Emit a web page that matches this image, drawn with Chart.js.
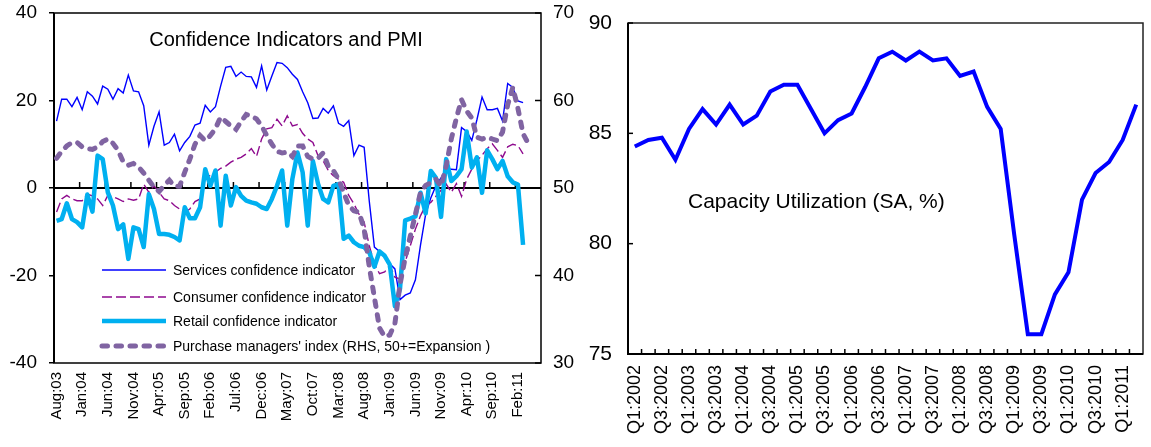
<!DOCTYPE html>
<html>
<head>
<meta charset="utf-8">
<script src="https://cdn.jsdelivr.net/npm/chart.js@4.4.1/dist/chart.umd.min.js"></script>
<style>
  html, body { margin: 0; padding: 0; background: #fff; }
  #wrap { position: relative; width: 1151px; height: 447px; overflow: hidden; background: #fff; }
  canvas { position: absolute; top: 0; }
  #confidence { left: 0; width: 585px; height: 447px; }
  #capacity { left: 585px; width: 566px; height: 447px; }
</style>
</head>
<body>
<div id="wrap">
  <canvas id="confidence" width="585" height="447"></canvas>
  <canvas id="capacity" width="566" height="447"></canvas>
</div>
<script>
// ---------- Monthly confidence indicators (Aug 2003 - Jun 2011) ----------
const months = [
  'Aug:03','Sep:03','Oct:03','Nov:03','Dec:03',
  'Jan:04','Feb:04','Mar:04','Apr:04','May:04','Jun:04','Jul:04','Aug:04','Sep:04','Oct:04','Nov:04','Dec:04',
  'Jan:05','Feb:05','Mar:05','Apr:05','May:05','Jun:05','Jul:05','Aug:05','Sep:05','Oct:05','Nov:05','Dec:05',
  'Jan:06','Feb:06','Mar:06','Apr:06','May:06','Jun:06','Jul:06','Aug:06','Sep:06','Oct:06','Nov:06','Dec:06',
  'Jan:07','Feb:07','Mar:07','Apr:07','May:07','Jun:07','Jul:07','Aug:07','Sep:07','Oct:07','Nov:07','Dec:07',
  'Jan:08','Feb:08','Mar:08','Apr:08','May:08','Jun:08','Jul:08','Aug:08','Sep:08','Oct:08','Nov:08','Dec:08',
  'Jan:09','Feb:09','Mar:09','Apr:09','May:09','Jun:09','Jul:09','Aug:09','Sep:09','Oct:09','Nov:09','Dec:09',
  'Jan:10','Feb:10','Mar:10','Apr:10','May:10','Jun:10','Jul:10','Aug:10','Sep:10','Oct:10','Nov:10','Dec:10',
  'Jan:11','Feb:11','Mar:11','Apr:11','May:11','Jun:11'
];

const servicesConfidence = [
  15.3, 20.3, 20.3, 18.6, 20.7,
  17.9, 22.0, 21.0, 19.2, 23.3, 22.6, 20.3, 22.7, 21.7, 25.8, 22.2, 22.0,
  18.8, 9.8, 14.1, 17.4, 9.8, 10.4, 12.3, 8.5, 10.4, 11.8, 14.4, 14.8,
  18.9, 17.4, 18.6, 23.3, 27.6, 27.8, 25.5, 26.5, 25.5, 25.4, 23.0, 27.9,
  22.4, 25.6, 28.7, 28.5, 27.5, 26.0, 24.8, 22.0, 19.5, 15.9, 16.0, 18.2,
  17.1, 18.8, 14.8, 14.1, 15.4, 7.4, 9.8, 9.3, -3.0, -13.5, -14.5, -15.8,
  -17.3, -18.5, -25.5, -24.5, -24.0, -21.0, -13.0, -6.0, -2.3, 0.5, 2.3, 4.3,
  4.3, 4.2, 13.8, 12.9, 10.9, 15.6, 20.8, 17.9, 17.9, 18.2, 15.3, 23.9,
  23.0, 19.9, 19.5, null, null, null
];

const consumerConfidence = [
  -5.5, -2.5, -1.7, -2.5, -2.9,
  -2.9, -1.4, -1.8, -2.5, -4.0, -1.7, -2.0, -2.5, -3.1, -2.5, -2.8, -2.5,
  0.9, -1.0, 0.5, -1.0, -2.5, -2.9, -4.0, -4.8, -5.5, -4.8, -3.1, -2.5,
  2.8, 2.8, 3.6, 4.5, 5.0, 5.9, 6.6, 7.0, 7.8, 9.0, 7.2, 11.2,
  13.5, 13.8, 15.7, 14.2, 16.5, 14.2, 14.5, 12.5, 11.2, 10.4, 7.4, 6.2,
  4.0, 2.8, 2.0, 1.3, -1.7, -3.6, -6.0, -7.8, -13.2, -17.3, -19.6, -19.2,
  -17.7, -20.4, -20.8, -16.9, -13.2, -9.4, -6.3, -4.0, -3.3, -1.9, -0.5, 0.9,
  -1.0, 1.0, -1.9, 2.0, 4.3, 6.2, 7.5, 9.0, 10.1, 8.6, 7.0, 9.4,
  10.0, 9.7, 7.8, null, null, null
];

const retailConfidence = [
  -7.5, -7.1, -3.5, -7.1, -7.8,
  -9.0, -1.5, -5.4, 7.4, 6.6, -1.0, -4.0, -9.4, -8.3, -16.2, -9.0, -9.4,
  -13.5, -1.4, -4.8, -10.5, -10.5, -10.7, -11.2, -12.0, -4.4, -6.9, -6.9, -4.4,
  4.3, 0.5, 4.0, -8.6, 2.8, -4.0, 0.2, -1.8, -2.9, -3.3, -3.6, -4.4,
  -4.8, -2.5, 0.5, 4.0, -8.6, 2.1, 8.1, 3.6, -8.6, 6.2, 1.0, -2.5,
  -3.3, 0.5, 0.9, -11.6, -10.9, -12.4, -13.2, -13.5, -14.7, -18.0, -14.5, -15.5,
  -17.5, -27.0, -23.0, -7.4, -7.0, -6.5, -1.1, -5.8, 3.9, 2.3, -6.6, 6.6,
  1.6, 2.7, 4.3, 12.9, 4.7, 7.0, -1.1, 8.6, 6.6, 4.3, 6.2, 2.7,
  1.3, 0.8, -13.0, null, null, null
];

// Purchase managers' index, plotted on the right-hand scale
const purchaseManagersIndex = [
  53.4, 54.2, 54.8, 55.2, 55.2,
  54.7, 54.5, 54.4, 54.7, 55.3, 55.6, 55.1, 54.3, 53.0, 52.6, 52.8, 52.4,
  51.7, 50.9, 50.1, 49.6, 50.3, 50.9, 50.2, 50.2, 51.8, 53.3, 55.0, 56.0,
  55.4, 56.0, 56.8, 58.1, 57.6, 57.1, 56.7, 57.6, 58.4, 58.2, 57.9, 57.1,
  56.0, 55.0, 54.2, 54.0, 54.1, 53.6, 54.8, 54.8, 53.6, 53.3, 53.4, 54.0,
  52.5, 52.0, 51.0, 49.5, 48.0, 47.4, 47.2, 45.3, 41.0, 37.5, 34.0, 33.0,
  33.2, 34.5, 39.0, 42.0, 44.5, 47.0, 49.5, 50.3, 50.6, 51.0, 50.2, 52.5,
  55.6, 58.0, 60.1, 58.8, 58.0, 55.8, 55.6, 55.8, 55.6, 55.4, 56.4, 59.5,
  61.5, 59.1, 56.2, 55.1, null, null
];

const leftTicks = [-40, -20, 0, 20, 40];
const rightTicks = [30, 40, 50, 60, 70];

// ---------- Quarterly capacity utilization ----------
const quarters = [
  'Q1:2002','Q2:2002','Q3:2002','Q4:2002',
  'Q1:2003','Q2:2003','Q3:2003','Q4:2003',
  'Q1:2004','Q2:2004','Q3:2004','Q4:2004',
  'Q1:2005','Q2:2005','Q3:2005','Q4:2005',
  'Q1:2006','Q2:2006','Q3:2006','Q4:2006',
  'Q1:2007','Q2:2007','Q3:2007','Q4:2007',
  'Q1:2008','Q2:2008','Q3:2008','Q4:2008',
  'Q1:2009','Q2:2009','Q3:2009','Q4:2009',
  'Q1:2010','Q2:2010','Q3:2010','Q4:2010',
  'Q1:2011','Q2:2011'
];

const capacityUtilization = [
  84.4, 84.7, 84.8, 83.8,
  85.2, 86.1, 85.4, 86.3,
  85.4, 85.8, 86.9, 87.2,
  87.2, 86.1, 85.0, 85.6,
  85.9, 87.1, 88.4, 88.7,
  88.3, 88.7, 88.3, 88.4,
  87.6, 87.8, 86.2, 85.2,
  80.4, 75.9, 75.9, 77.7,
  78.7, 82.0, 83.2, 83.7,
  84.7, 86.3
];

const capacityTicks = [75, 80, 85, 90];

const FONT = '"Liberation Sans", Arial, Helvetica, sans-serif';
Chart.defaults.font.family = FONT;
Chart.defaults.color = '#000';

function strokeLine(ctx, x1, y1, x2, y2) {
  ctx.beginPath();
  ctx.moveTo(x1, y1);
  ctx.lineTo(x2, y2);
  ctx.stroke();
}

// Vertical axes keep a fixed width and do not reserve room above/below the plot
function fixedWidth(w) {
  return function (scale) {
    scale.width = w;
    scale.paddingTop = 0;
    scale.paddingBottom = 0;
  };
}

// Frame, zero axis, category ticks, title and legend for the confidence panel
const confidenceDecor = {
  id: 'confidenceDecor',
  beforeDatasetsDraw(chart) {
    const { ctx, chartArea: a, scales: { x, y, y1 } } = chart;
    ctx.save();
    ctx.strokeStyle = '#000';
    ctx.lineWidth = 1.5;
    ctx.strokeRect(a.left, a.top, a.right - a.left, a.bottom - a.top);
    ctx.lineWidth = 2;
    strokeLine(ctx, a.left, a.top, a.left, a.bottom);
    const y0 = y.getPixelForValue(0);
    strokeLine(ctx, a.left, y0, a.right, y0);
    ctx.lineWidth = 1.5;
    for (let k = 5; k < months.length; k += 5) {
      const px = x.getPixelForValue(k - 0.5);
      strokeLine(ctx, px, y0, px, y0 - 6);
    }
    rightTicks.forEach(v => {
      const py = y1.getPixelForValue(v);
      strokeLine(ctx, a.right - 6, py, a.right, py);
    });
    ctx.restore();
  },
  afterDatasetsDraw(chart) {
    const { ctx, chartArea: a } = chart;
    ctx.save();
    ctx.fillStyle = '#000';
    ctx.font = '20px ' + FONT;
    ctx.textAlign = 'center';
    ctx.textBaseline = 'alphabetic';
    ctx.fillText('Confidence Indicators and PMI', a.left + 232, a.top + 33);

    const rowY = [257, 284, 308, 333];
    chart.data.datasets.forEach((ds, i) => {
      const yy = a.top + rowY[i];
      ctx.save();
      ctx.strokeStyle = ds.borderColor;
      ctx.lineWidth = ds.borderWidth;
      ctx.lineCap = ds.borderCapStyle || 'butt';
      ctx.setLineDash(ds.borderDash || []);
      strokeLine(ctx, a.left + 48, yy, a.left + 112, yy);
      ctx.restore();
      ctx.font = '14px ' + FONT;
      ctx.textAlign = 'left';
      ctx.textBaseline = 'middle';
      ctx.fillText(ds.label, a.left + 119, yy + 1);
    });
    ctx.restore();
  }
};

new Chart(document.getElementById('confidence'), {
  type: 'line',
  data: {
    labels: months,
    datasets: [
      {
        label: 'Services confidence indicator',
        data: servicesConfidence,
        yAxisID: 'y',
        borderColor: '#0000FF',
        borderWidth: 1.4,
        order: 3
      },
      {
        label: 'Consumer confidence indicator',
        data: consumerConfidence,
        yAxisID: 'y',
        borderColor: '#8E0A8E',
        borderWidth: 1.4,
        borderDash: [10, 4],
        order: 2
      },
      {
        label: 'Retail confidence indicator',
        data: retailConfidence,
        yAxisID: 'y',
        borderColor: '#00B0F0',
        borderWidth: 4.5,
        borderJoinStyle: 'round',
        order: 1
      },
      {
        label: "Purchase managers' index (RHS, 50+=Expansion )",
        data: purchaseManagersIndex,
        yAxisID: 'y1',
        borderColor: '#8064A2',
        borderWidth: 5,
        borderDash: [5.5, 8.5],
        borderCapStyle: 'round',
        order: 0
      }
    ]
  },
  options: {
    responsive: false,
    animation: false,
    events: [],
    layout: { padding: { top: 13, left: 0, right: 0, bottom: 0 } },
    elements: { point: { radius: 0 }, line: { tension: 0, fill: false } },
    plugins: { legend: { display: false }, tooltip: { enabled: false }, title: { display: false } },
    scales: {
      x: {
        type: 'category',
        offset: true,
        grid: { display: false, drawTicks: false },
        border: { display: false },
        ticks: {
          autoSkip: false,
          minRotation: 90,
          maxRotation: 90,
          padding: 9,
          color: '#000',
          font: { size: 15 },
          callback(value, index) { return index % 5 === 0 ? this.getLabelForValue(value) : ''; }
        },
        afterFit(scale) { scale.height = 84; scale.paddingLeft = 0; scale.paddingRight = 0; }
      },
      y: {
        position: 'left',
        min: -40, max: 40,
        afterBuildTicks(scale) { scale.ticks = leftTicks.map(v => ({ value: v })); },
        grid: { display: true, drawOnChartArea: false, drawTicks: true, tickLength: 5, color: '#000', lineWidth: 1.5 },
        border: { display: false },
        ticks: { padding: 12, color: '#000', font: { size: 19 } },
        afterFit: fixedWidth(54)
      },
      y1: {
        position: 'right',
        min: 30, max: 70,
        afterBuildTicks(scale) { scale.ticks = rightTicks.map(v => ({ value: v })); },
        grid: { display: false, drawTicks: false },
        border: { display: false },
        ticks: { padding: 12, color: '#000', font: { size: 19 } },
        afterFit: fixedWidth(44)
      }
    }
  },
  plugins: [confidenceDecor]
});

// Frame, inside ticks and title for the capacity utilization panel
const capacityDecor = {
  id: 'capacityDecor',
  beforeDatasetsDraw(chart) {
    const { ctx, chartArea: a, scales: { x, y } } = chart;
    ctx.save();
    ctx.strokeStyle = '#222';
    ctx.lineWidth = 1.5;
    ctx.strokeRect(a.left, a.top, a.right - a.left, a.bottom - a.top);
    ctx.strokeStyle = '#000';
    ctx.lineWidth = 2;
    strokeLine(ctx, a.left, a.top, a.left, a.bottom + 1);
    strokeLine(ctx, a.left - 1, a.bottom, a.right, a.bottom);
    ctx.lineWidth = 1.5;
    for (let k = 1; k < quarters.length; k++) {
      const px = x.getPixelForValue(k - 0.5);
      strokeLine(ctx, px, a.bottom, px, a.bottom - 5);
    }
    capacityTicks.forEach(v => {
      const py = y.getPixelForValue(v);
      strokeLine(ctx, a.left, py, a.left + 5, py);
    });
    ctx.restore();
  },
  afterDatasetsDraw(chart) {
    const { ctx, chartArea: a } = chart;
    ctx.save();
    ctx.fillStyle = '#000';
    ctx.font = '21px ' + FONT;
    ctx.textAlign = 'left';
    ctx.textBaseline = 'alphabetic';
    ctx.fillText('Capacity Utilization (SA, %)', a.left + 60, a.top + 185);
    ctx.restore();
  }
};

new Chart(document.getElementById('capacity'), {
  type: 'line',
  data: {
    labels: quarters,
    datasets: [{
      label: 'Capacity Utilization (SA, %)',
      data: capacityUtilization,
      borderColor: '#0000FF',
      borderWidth: 4,
      borderJoinStyle: 'miter'
    }]
  },
  options: {
    responsive: false,
    animation: false,
    events: [],
    layout: { padding: { top: 23, left: 0, right: 8, bottom: 0 } },
    elements: { point: { radius: 0 }, line: { tension: 0, fill: false } },
    plugins: { legend: { display: false }, tooltip: { enabled: false }, title: { display: false } },
    scales: {
      x: {
        type: 'category',
        offset: true,
        grid: { display: false, drawTicks: false },
        border: { display: false },
        ticks: {
          autoSkip: false,
          minRotation: 90,
          maxRotation: 90,
          padding: 11,
          color: '#000',
          font: { size: 18 },
          callback(value, index) { return index % 2 === 0 ? this.getLabelForValue(value) : ''; }
        },
        afterFit(scale) { scale.height = 93; scale.paddingLeft = 0; scale.paddingRight = 0; }
      },
      y: {
        position: 'left',
        min: 75, max: 90,
        afterBuildTicks(scale) { scale.ticks = capacityTicks.map(v => ({ value: v })); },
        grid: { display: false, drawTicks: false },
        border: { display: false },
        ticks: { padding: 16, color: '#000', font: { size: 21 } },
        afterFit: fixedWidth(43)
      }
    }
  },
  plugins: [capacityDecor]
});
</script>
</body>
</html>
